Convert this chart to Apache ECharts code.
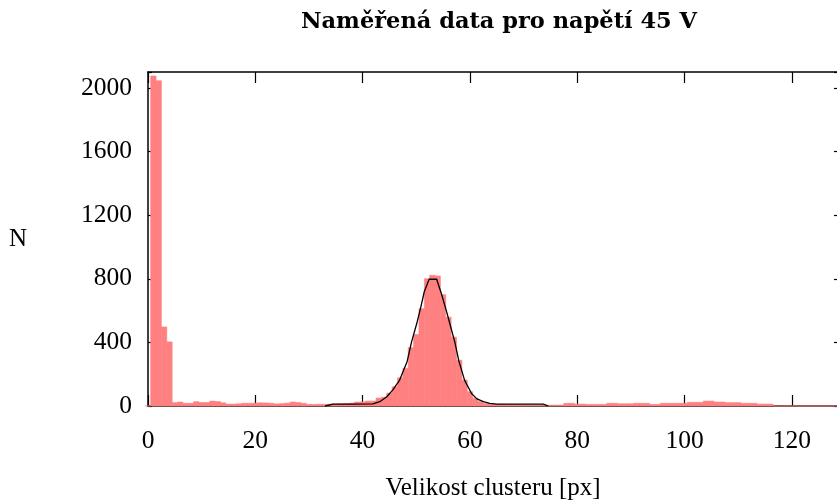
<!DOCTYPE html>
<html><head><meta charset="utf-8">
<script src="https://cdn.jsdelivr.net/npm/echarts@6/dist/echarts.min.js"></script>
<style>html,body{margin:0;padding:0;background:#fff}#c{width:837px;height:502px}</style>
</head><body><div id="c"></div><script>
// Histogram counts; bin i is centred on cluster size i (bin width 1 px)
const counts = [
  0, 2075, 2045, 497, 403, 21, 25, 17, 17, 27,
  22, 22, 31, 28, 20, 12, 12, 14, 17, 17,
  18, 20, 19, 17, 13, 15, 18, 25, 22, 17,
  11, 10, 11, 11, 12, 12, 14, 15, 18, 25,
  25, 31, 31, 50, 55, 81, 121, 177, 237, 367,
  450, 612, 800, 822, 818, 700, 558, 433, 288, 163,
  90, 49, 27, 15, 12, 10, 9, 8, 8, 7,
  7, 6, 6, 5, 5, 5, 6, 6, 17, 17,
  12, 12, 10, 10, 10, 10, 17, 17, 14, 14,
  14, 17, 17, 17, 10, 10, 17, 17, 17, 17,
  17, 23, 23, 23, 31, 31, 25, 25, 21, 21,
  21, 17, 17, 17, 12, 12, 12, 0, 0, 0,
  0, 0, 0, 0, 0, 0, 0, 0, 0
];
// Fitted curve, points
const fitX = [33, 34.5, 38, 41.9, 43.2, 44.5, 45.6, 46.9, 48.3, 49.1, 50.1, 50.9, 51.5, 52.4, 53.8, 54.7, 55.6, 56.4, 57.2, 57.9, 59.0, 60.3, 61.3, 62.5, 63.7, 65, 73.7, 74.6];
const fitY = [0, 12, 12, 13, 27, 58, 100, 163, 280, 400, 520, 630, 720, 797, 797, 704, 600, 500, 400, 288, 163, 79, 45, 27, 17, 12, 12, 0];
const xTicks = [0, 20, 40, 60, 80, 100, 120];
const yTicks = [0, 400, 800, 1200, 1600, 2000];

const histData = counts.map((c, i) => [i, c]);
const fitData = fitX.map((x, i) => [x, fitY[i]]);

const serif = 'Liberation Serif';
const chart = echarts.init(document.getElementById('c'), null, {renderer: 'canvas'});
const axisLineStyle = {color: '#000', width: 1.5};
chart.setOption({
  animation: false,
  backgroundColor: '#fff',
  title: {
    text: 'Naměřená data pro napětí 45 V',
    left: 494, top: 6, textAlign: 'center',
    textStyle: {fontFamily: 'DejaVu Serif', fontWeight: 'bold', fontSize: 22.5, color: '#000'}
  },
  grid: {left: 148, top: 72, width: 690, height: 334, outerBoundsMode: 'none', containLabel: false},
  xAxis: [{
    type: 'value', min: 0, max: 128.6, interval: 20,
    name: 'Velikost clusteru [px]', nameLocation: 'middle', nameGap: 70,
    nameTextStyle: {fontFamily: serif, fontSize: 25, color: '#000'},
    axisLine: {show: true, onZero: false, lineStyle: axisLineStyle},
    axisTick: {show: true, inside: true, length: 11, lineStyle: {color: '#000', width: 1.2}},
    axisLabel: {fontFamily: serif, fontSize: 25.5, color: '#000', margin: 22,
      formatter: v => xTicks.includes(v) ? String(v) : ''},
    splitLine: {show: false}
  }, {
    type: 'value', position: 'top', min: 0, max: 128.6, interval: 20,
    axisLine: {show: true, onZero: false, lineStyle: axisLineStyle},
    axisTick: {show: true, inside: true, length: 11, lineStyle: {color: '#000', width: 1.2}},
    axisLabel: {show: false}, splitLine: {show: false}
  }],
  yAxis: [{
    type: 'value', min: 0, max: 2100, interval: 400,
    name: 'N', nameLocation: 'middle', nameRotate: 0, nameGap: 121,
    nameTextStyle: {fontFamily: serif, fontSize: 25, color: '#000'},
    axisLine: {show: true, onZero: false, lineStyle: axisLineStyle},
    axisTick: {show: true, inside: true, length: 4, lineStyle: {color: '#000', width: 1.2}},
    axisLabel: {fontFamily: serif, fontSize: 25.5, color: '#000', margin: 16,
      formatter: v => yTicks.includes(v) ? String(v) : ''},
    splitLine: {show: false}
  }, {
    type: 'value', position: 'right', min: 0, max: 2100, interval: 400,
    axisLine: {show: true, onZero: false, lineStyle: axisLineStyle},
    axisTick: {show: true, inside: true, length: 4, lineStyle: {color: '#000', width: 1.2}},
    axisLabel: {show: false}, splitLine: {show: false}
  }],
  series: [{
    type: 'custom', xAxisIndex: 0, yAxisIndex: 0, data: histData,
    encode: {x: 0, y: 1}, z: 2,
    renderItem: (params, api) => {
      const x = api.value(0), y = api.value(1);
      const p0 = api.coord([x - 0.5, y]);
      const p1 = api.coord([x + 0.5, 0]);
      return {type: 'rect', shape: {x: p0[0], y: p0[1], width: p1[0] - p0[0], height: p1[1] - p0[1]},
        style: {fill: '#ff8080', stroke: '#ff8080', lineWidth: 0.6}};
    }
  }, {
    type: 'line', xAxisIndex: 0, yAxisIndex: 0, data: fitData, z: 3,
    symbol: 'none', smooth: false,
    lineStyle: {color: '#000', width: 1.3}
  }]
});
</script></body></html>
